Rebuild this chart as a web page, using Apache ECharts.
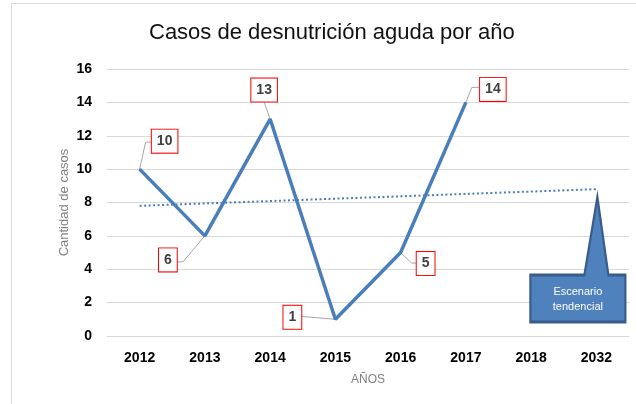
<!DOCTYPE html>
<html>
<head>
<meta charset="utf-8">
<script src="https://cdn.jsdelivr.net/npm/echarts@6/dist/echarts.min.js"></script>
<style>
  html, body { margin: 0; padding: 0; background: #fff; overflow: hidden; }
  #main { width: 636px; height: 404px; }
  #frame { position: absolute; left: 11px; top: 3px; width: 700px; height: 500px; border: 1px solid #d9d9d9; pointer-events: none; }
</style>
</head>
<body>
<div id="main"></div>
<div id="frame"></div>
<script>
// datos
let years = ['2012', '2013', '2014', '2015', '2016', '2017', '2018', '2032']
let casos = [10, 6, 13, 1, 5, 14, null, null]
let tendencia = [7.8, null, null, null, null, null, null, 8.8]   // linea de tendencia (solo extremos)
let escenarioValor = 8.33
let yTicks = [0, 2, 4, 6, 8, 10, 12, 14, 16]

// posicion de las etiquetas respecto al punto (px)
let labelOffsets = [[25, -28], [-37, 24], [-6, -29], [-43, -2], [25, 11], [27, -13]]
// lineas guia de las etiquetas (px, relativas al punto)
let leaderPoints = [
    [[0, 0], [6, -27], [12, -27]],
    [[0, 0], [-22, 26], [-29, 26]],
    [[0, 0], [-6, -17]],
    [[0, 0], [-35, -3]],
    [[0, 0], [11, 10.5], [16, 10.5]],
    [[0, 0], [6, -15], [13, -15]]
]

let leaderData = []
for (let i = 0; i < casos.length; i++) {
    if (casos[i] != null) leaderData.push([i, casos[i]])
}

let chart = echarts.init(document.getElementById('main'))

chart.setOption({
    animation: false,
    textStyle: { fontFamily: 'Liberation Sans, Arial, sans-serif' },
    title: {
        text: 'Casos de desnutrición aguda por año',
        left: 144,
        top: 17,
        textStyle: { fontSize: 22, fontWeight: 'normal', color: '#111' }
    },
    grid: { left: 107, right: 7, top: 69, bottom: 68 },
    xAxis: {
        type: 'category',
        data: years,
        boundaryGap: true,
        name: 'AÑOS',
        nameLocation: 'middle',
        nameGap: 38,
        nameTextStyle: { color: '#7f7f7f', fontSize: 12 },
        axisLine: { show: false },
        axisTick: { show: false },
        axisLabel: { color: '#000', fontWeight: 'bold', fontSize: 14, margin: 15 }
    },
    yAxis: {
        type: 'value',
        min: yTicks[0],
        max: yTicks[yTicks.length - 1],
        interval: 2,
        name: 'Cantidad de casos',
        nameLocation: 'middle',
        nameGap: 36,
        nameMoveOverlap: false,
        nameTextStyle: { color: '#7f7f7f', fontSize: 13 },
        axisLine: { show: false },
        axisTick: { show: false },
        axisLabel: { color: '#000', fontWeight: 'bold', fontSize: 14, margin: 15 },
        splitLine: { lineStyle: { color: '#d9d9d9', width: 1 } }
    },
    series: [
        {
            // lineas guia
            type: 'custom',
            data: leaderData,
            z: 1,
            silent: true,
            renderItem: function (params, api) {
                let p = api.coord([api.value(0), api.value(1)])
                let pts = leaderPoints[params.dataIndex].map(function (d) {
                    return [p[0] + d[0], p[1] + d[1]]
                })
                return {
                    type: 'polyline',
                    shape: { points: pts },
                    style: { stroke: '#a6a6a6', lineWidth: 1, fill: null }
                }
            }
        },
        {
            name: 'Casos',
            type: 'line',
            data: casos,
            symbol: 'circle',
            symbolSize: 1,
            showSymbol: true,
            itemStyle: { color: '#4a7ebb' },
            lineStyle: { color: '#4a7ebb', width: 3.5 },
            z: 3,
            label: {
                show: true,
                position: 'inside',
                color: '#404040',
                fontWeight: 'bold',
                fontSize: 14,
                backgroundColor: '#fff',
                borderColor: '#ff0000',
                borderWidth: 1,
                padding: [5, 5, 4, 5]
            },
            labelLayout: function (params) {
                let off = labelOffsets[params.dataIndex]
                let px = params.rect.x + params.rect.width / 2
                let py = params.rect.y + params.rect.height / 2
                return {
                    x: px + off[0],
                    y: py + off[1],
                    align: 'center',
                    verticalAlign: 'middle'
                }
            }
        },
        {
            name: 'Tendencia',
            type: 'line',
            data: tendencia,
            connectNulls: true,
            showSymbol: false,
            symbol: 'none',
            lineStyle: { color: '#4a7ebb', width: 2, type: [2, 2.5] },
            z: 2,
            markPoint: {
                symbol: 'path://M0 78 L54 78 L67 0 L78 78 L95 78 L95 125 L0 125 Z',
                symbolSize: [95, 125],
                symbolKeepAspect: false,
                symbolOffset: [-18.5, 62.5],
                itemStyle: { color: '#4f81bd', borderColor: '#385d8a', borderWidth: 2.5 },
                label: {
                    show: true,
                    position: 'inside',
                    offset: [0, 40],
                    color: '#fff',
                    fontSize: 11,
                    lineHeight: 15,
                    fontFamily: 'Liberation Sans, Arial, sans-serif',
                    formatter: 'Escenario\ntendencial'
                },
                data: [{ coord: ['2032', escenarioValor] }]
            }
        }
    ]
})
</script>
</body>
</html>
